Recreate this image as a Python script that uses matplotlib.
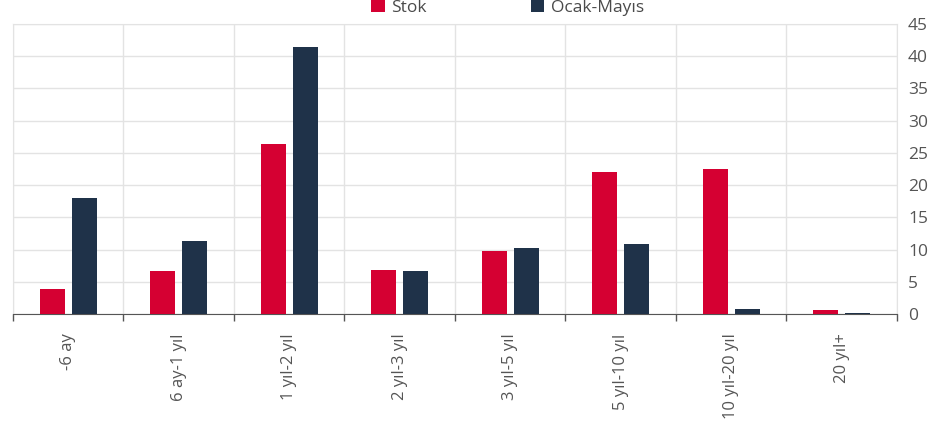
import numpy as np
import matplotlib.pyplot as plt

plt.rcParams['font.family'] = ['Open Sans', 'DejaVu Sans']

kategoriler = ['-6 ay', '6 ay-1 yıl', '1 yıl-2 yıl', '2 yıl-3 yıl', '3 yıl-5 yıl',
               '5 yıl-10 yıl', '10 yıl-20 yıl', '20 yıl+']
stok = [3.9, 6.7, 26.4, 6.9, 9.8, 22.1, 22.5, 0.6]
ocak_mayis = [18.0, 11.4, 41.4, 6.7, 10.2, 10.9, 0.8, 0.2]
y_ticks = list(range(0, 50, 5))

kirmizi = '#d50032'
lacivert = '#1f3249'
yazi = '#555555'

fig = plt.figure(figsize=(9.37, 4.26), dpi=100)
ax = fig.add_axes([13/937, 1 - 314/426, 884/937, 290/426])

x = np.arange(len(kategoriler))
w = 0.23
ax.bar(x - 0.145, stok, w, color=kirmizi, label='Stok', zorder=3)
ax.bar(x + 0.145, ocak_mayis, w, color=lacivert, label='Ocak-Mayıs', zorder=3)

ax.set_xlim(-0.5, len(kategoriler) - 0.5)
ax.set_ylim(0, 45)
ax.set_yticks(y_ticks)
ax.yaxis.tick_right()
ax.tick_params(axis='y', length=0, labelsize=12.5, colors=yazi, pad=8)

# kategori etiketleri ortada, tik çizgileri sınırlarda
ax.set_xticks(x)
ax.set_xticklabels(kategoriler, rotation=90, va='top', ha='center')
ax.set_xticks(np.arange(-0.5, len(kategoriler)), minor=True)
ax.tick_params(axis='x', which='major', length=0, labelsize=12, colors=yazi, pad=14)
ax.tick_params(axis='x', which='minor', length=5, color='#555555', width=1)

ax.grid(True, axis='y', color='#e3e3e3', lw=1, zorder=0)
ax.grid(True, axis='x', which='minor', color='#e3e3e3', lw=1, zorder=0)
for s in ['left', 'right', 'top']:
    ax.spines[s].set_color('#e3e3e3')
ax.spines['bottom'].set_color('#555555')

fig.legend(loc='center', bbox_to_anchor=(0.542, 0.982), ncol=2, frameon=False,
           fontsize=12.5, labelcolor='#4a4a4a', handlelength=0.75, handleheight=0.75,
           columnspacing=6.0, handletextpad=0.4)

fig.savefig('out.png', dpi=100)
